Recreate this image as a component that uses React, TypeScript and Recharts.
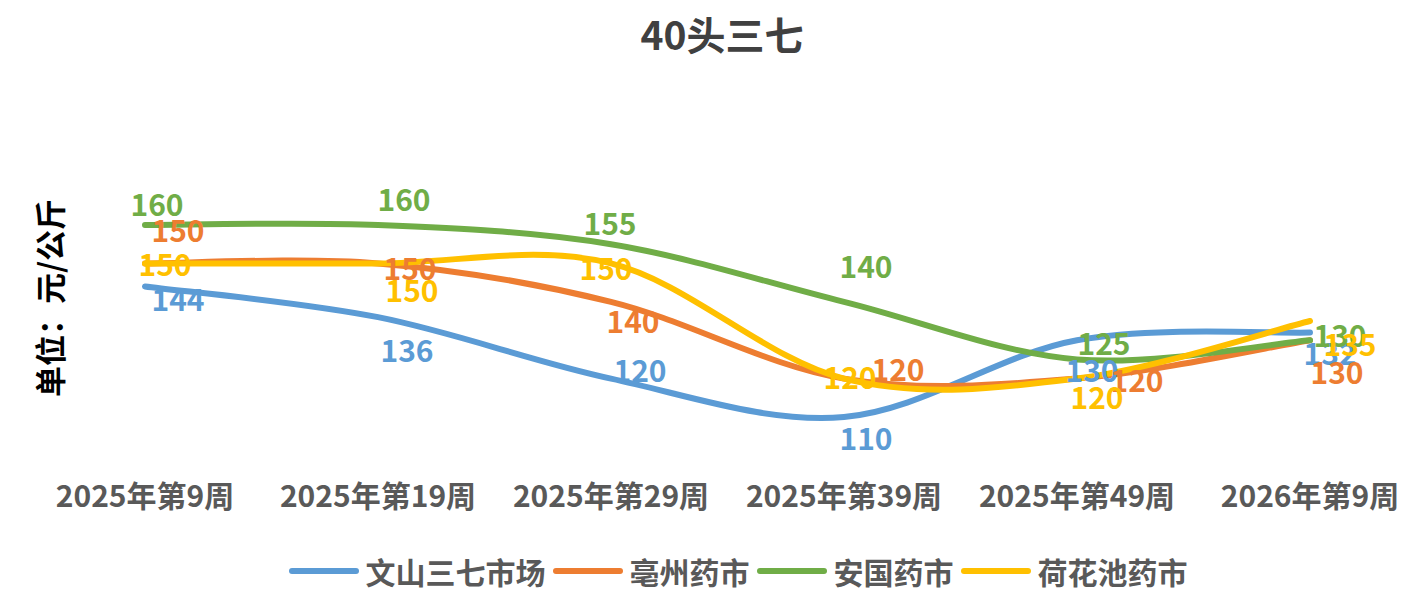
import React from 'react';
import { LineChart, Line, XAxis, YAxis, Legend } from 'recharts';

const categories = ['2025年第9周', '2025年第19周', '2025年第29周', '2025年第39周', '2025年第49周', '2026年第9周'];
const wenshan = [144, 136, 120, 110, 130, 132];
const bozhou = [150, 150, 140, 120, 120, 130];
const anguo = [160, 160, 155, 140, 125, 130];
const hehuachi = [150, 150, 150, 120, 120, 135];

const data = categories.map((week, i) => ({
  week,
  wenshan: wenshan[i],
  bozhou: bozhou[i],
  anguo: anguo[i],
  hehuachi: hehuachi[i],
}));

const FONT = '"Noto Sans CJK SC", "Noto Sans", sans-serif';

// series order = draw order (last on top), like the spreadsheet
const series = [
  { key: 'wenshan', name: '文山三七市场', color: '#5B9BD5' },
  { key: 'bozhou', name: '亳州药市', color: '#ED7D31' },
  { key: 'anguo', name: '安国药市', color: '#70AD47' },
  { key: 'hehuachi', name: '荷花池药市', color: '#FFC000' },
];

// hand-placed data label offsets (px from the point), one per point
const labelShift: Record<string, number[][]> = {
  wenshan: [[33, 12], [29, 32], [29, -10], [22, 20], [15, 29], [20, 19]],
  bozhou: [[33, -34], [32, 4], [22, 18], [54, -11], [60, 0], [27, 31]],
  anguo: [[12, -22], [26, -27], [-1, -22], [22, -37], [27, -17], [30, -6]],
  hehuachi: [[20, 0], [34, 26], [-5, 4], [6, -3], [20, 17], [40, 22]],
};

// spreadsheet-style smoothing (Catmull-Rom, 1/6 tangents)
function smoothCurve(context: any) {
  let pts: number[][] = [];
  return {
    areaStart() {},
    areaEnd() {},
    lineStart() {
      pts = [];
    },
    point(x: number, y: number) {
      pts.push([+x, +y]);
    },
    lineEnd() {
      if (!pts.length) return;
      context.moveTo(pts[0][0], pts[0][1]);
      for (let i = 0; i < pts.length - 1; i++) {
        const p0 = pts[Math.max(i - 1, 0)];
        const p1 = pts[i];
        const p2 = pts[i + 1];
        const p3 = pts[Math.min(i + 2, pts.length - 1)];
        context.bezierCurveTo(
          p1[0] + (p2[0] - p0[0]) / 6,
          p1[1] + (p2[1] - p0[1]) / 6,
          p2[0] - (p3[0] - p1[0]) / 6,
          p2[1] - (p3[1] - p1[1]) / 6,
          p2[0],
          p2[1],
        );
      }
    },
  };
}

function makeLabel(key: string, color: string) {
  return (props: any) => {
    const { x, y, value, index } = props;
    const [dx, dy] = labelShift[key][index] || [0, 0];
    return (
      <text
        key={`${key}-${index}`}
        x={x + dx}
        y={y + dy}
        textAnchor="middle"
        dominantBaseline="central"
        fill={color}
        fontSize={30}
        fontWeight={700}
        fontFamily={FONT}
      >
        {value}
      </text>
    );
  };
}

function WeekTick(props: any) {
  const { x, y, payload } = props;
  return (
    <text
      x={x}
      y={y + 39}
      textAnchor="middle"
      dominantBaseline="central"
      fill="#595959"
      fontSize={30}
      fontWeight={700}
      fontFamily={FONT}
    >
      {payload.value}
    </text>
  );
}

function LegendContent() {
  return (
    <div
      style={{
        display: 'flex',
        justifyContent: 'center',
        alignItems: 'center',
        height: 36,
        paddingLeft: 56,
        fontFamily: FONT,
        fontWeight: 700,
        fontSize: 30,
        color: '#595959',
      }}
    >
      {series.map((s) => (
        <div key={s.key} style={{ display: 'flex', alignItems: 'center', marginRight: 6 }}>
          <svg width={72} height={10}>
            <line x1={4} x2={68} y1={5} y2={5} stroke={s.color} strokeWidth={6} strokeLinecap="round" />
          </svg>
          <span style={{ marginLeft: 6 }}>{s.name}</span>
        </div>
      ))}
    </div>
  );
}

export default function App() {
  // the svg starts at the very top of the page so the title has room above it
  return (
    <div style={{ width: 1409, height: 589, marginTop: -8 }}>
      <LineChart width={1409} height={589} data={data} margin={{ top: 186.6, right: 107, bottom: 0, left: 137 }}>
        <text
          x={714}
          y={33}
          textAnchor="middle"
          dominantBaseline="central"
          fill="#404040"
          fontSize={39}
          fontWeight={700}
          fontFamily={FONT}
        >
          40头三七
        </text>
        <text
          transform="translate(40, 298) rotate(-90)"
          textAnchor="middle"
          dominantBaseline="central"
          fill="#000000"
          fontSize={31}
          fontWeight={700}
          fontFamily={FONT}
        >
          单位：元/公斤
        </text>
        <XAxis
          dataKey="week"
          height={97.6}
          axisLine={false}
          tickLine={false}
          tickSize={0}
          tickMargin={0}
          interval={0}
          tick={<WeekTick />}
        />
        <YAxis hide domain={[100, 170]} allowDataOverflow />
        <Legend
          verticalAlign="bottom"
          height={36}
          wrapperStyle={{ left: 0, width: 1409 }}
          content={<LegendContent />}
        />
        {series.map((s) => (
          <Line
            key={s.key}
            dataKey={s.key}
            name={s.name}
            type={smoothCurve as any}
            stroke={s.color}
            strokeWidth={6}
            strokeLinecap="round"
            dot={false}
            activeDot={false}
            isAnimationActive={false}
          />
        ))}
        {/* labels drawn after every line so they sit on top */}
        {series.map((s) => (
          <Line
            key={`${s.key}-labels`}
            dataKey={s.key}
            stroke="none"
            legendType="none"
            dot={false}
            activeDot={false}
            label={makeLabel(s.key, s.color)}
            isAnimationActive={false}
          />
        ))}
      </LineChart>
    </div>
  );
}
